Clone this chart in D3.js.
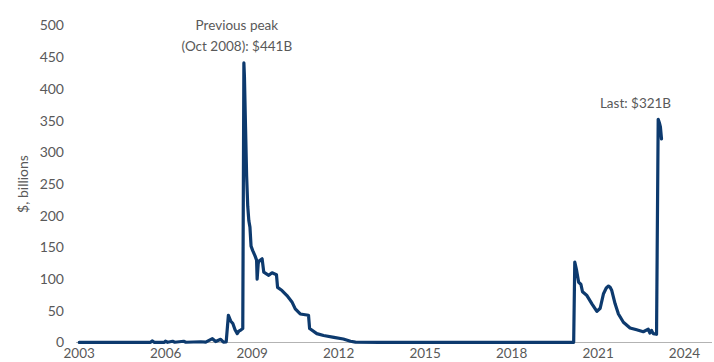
<!DOCTYPE html>
<html>
<head>
<meta charset="utf-8">
<script src="https://cdn.jsdelivr.net/npm/d3@7"></script>
<style>
  html, body { margin: 0; padding: 0; background: #fff; }
  svg { display: block; }
  text { font-family: Lato, "Open Sans", sans-serif; fill: #595959; }
</style>
</head>
<body>
<svg id="chart" width="714" height="362"></svg>
<script>
// Weekly Federal Reserve lending, $ billions
const dates = [
  "2003-01-08","2003-07-02","2004-01-07","2004-07-07","2005-01-05","2005-06-29","2005-07-20","2005-08-17",
  "2005-12-21","2006-01-04","2006-02-01","2006-04-05","2006-05-03","2006-08-23","2006-09-20","2007-03-28",
  "2007-05-30","2007-08-22","2007-10-03","2007-12-05","2008-01-09","2008-02-13","2008-03-12","2008-04-09",
  "2008-05-07","2008-06-04","2008-07-02","2008-07-23","2008-08-20","2008-09-10","2008-09-24","2008-10-01",
  "2008-10-15","2008-10-29","2008-11-12","2008-11-26","2008-12-10","2008-12-24","2009-01-14","2009-02-11",
  "2009-03-04","2009-03-11","2009-03-25","2009-04-08","2009-05-13","2009-06-03","2009-08-05","2009-09-16",
  "2009-11-11","2009-11-25","2010-01-20","2010-03-24","2010-05-26","2010-07-07","2010-09-08","2010-12-22",
  "2011-01-05","2011-04-06","2011-07-01","2011-11-09","2012-03-07","2012-06-06","2012-08-08","2013-06-05",
  "2014-06-04","2015-06-03","2016-06-01","2017-06-07","2018-06-06","2019-06-05","2020-03-04","2020-03-18",
  "2020-04-08","2020-05-06","2020-06-03","2020-06-24","2020-08-19","2020-10-21","2020-12-23","2021-02-03",
  "2021-03-17","2021-04-21","2021-05-19","2021-06-09","2021-06-30","2021-08-11","2021-09-22","2021-11-24",
  "2022-02-16","2022-05-11","2022-08-03","2022-10-05","2022-10-26","2022-11-16","2022-12-07","2023-01-18",
  "2023-02-08","2023-02-22","2023-03-08","2023-03-22"
];
const lendingBillions = [
  0.1, 0.2, 0.1, 0.2, 0.1, 0.3, 2.5, 0.3,
  0.3, 2.0, 0.3, 2.0, 0.4, 2.0, 0.4, 1.2,
  0.5, 6.0, 1.5, 5.0, 0.5, 1.0, 43, 34,
  30, 20, 14, 18, 20, 22, 441, 420,
  340, 262, 215, 192, 182, 152, 145, 137,
  130, 100, 125, 129, 132, 111, 106, 110,
  107, 87, 82, 74, 64, 53, 45, 43,
  22, 14, 11, 8, 5.5, 2, 0.5, 0.3,
  0.2, 0.3, 0.2, 0.3, 0.2, 0.2, 0.3, 127,
  115, 95, 92, 80, 74, 61, 49, 54,
  77, 86, 89, 87, 82, 61, 45, 32,
  23, 20, 17, 21, 15, 19, 14, 13,
  352, 347, 340, 321
];

const yearTicks = [2003, 2006, 2009, 2012, 2015, 2018, 2021, 2024];
const valueTicks = [0, 50, 100, 150, 200, 250, 300, 350, 400, 450, 500];
const yAxisTitle = "$, billions";
const peakNote = ["Previous peak", "(Oct 2008): $441B"];
const lastNote = "Last: $321B";

const parse = d3.timeParse("%Y-%m-%d");
const series = dates.map((d, i) => ({ date: parse(d), value: lendingBillions[i] }));

const svg = d3.select("#chart");
const lineColor = "#0d3a6e";

const x = d3.scaleTime()
  .domain([new Date(2003, 0, 1), new Date(2024, 0, 1)])
  .range([78.7, 684]);
const y = d3.scaleLinear()
  .domain([0, 500])
  .range([342.5, 25.5]);

// Baseline along zero
svg.append("line")
  .attr("x1", 76).attr("x2", 712)
  .attr("y1", y(0)).attr("y2", y(0))
  .attr("stroke", "#b3b3b3").attr("stroke-width", 1);

// Value axis labels
const yAxis = svg.append("g")
  .attr("transform", "translate(64,0)")
  .call(d3.axisLeft(y).tickValues(valueTicks).tickSize(0).tickPadding(0).tickFormat(d3.format("d")));
yAxis.select(".domain").remove();
yAxis.selectAll("text")
  .style("font-size", "14px")
  .style("font-family", "Lato, 'Open Sans', sans-serif")
  .attr("fill", "#595959");

// Year axis labels
const xAxis = svg.append("g")
  .attr("transform", `translate(0,${y(0)})`)
  .call(d3.axisBottom(x)
    .tickValues(yearTicks.map(yr => new Date(yr, 0, 1)))
    .tickSize(0).tickPadding(6)
    .tickFormat(d3.timeFormat("%Y")));
xAxis.select(".domain").remove();
xAxis.selectAll("text")
  .style("font-size", "13.5px")
  .style("font-family", "Lato, 'Open Sans', sans-serif")
  .attr("fill", "#595959");

// Axis title
svg.append("text")
  .attr("transform", `translate(28,${(y(0) + y(500)) / 2}) rotate(-90)`)
  .attr("text-anchor", "middle")
  .style("font-size", "14px")
  .text(yAxisTitle);

// Lending series
const line = d3.line()
  .x(d => x(d.date))
  .y(d => y(d.value));

svg.append("path")
  .datum(series)
  .attr("d", line)
  .attr("fill", "none")
  .attr("stroke", lineColor)
  .attr("stroke-width", 3.2)
  .attr("stroke-linejoin", "round")
  .attr("stroke-linecap", "round");

// Annotations
const peak = series.reduce((a, b) => (b.value > a.value ? b : a));
const peakLabel = svg.append("text")
  .attr("text-anchor", "middle")
  .style("font-size", "13.5px");
peakNote.forEach((t, i) => {
  peakLabel.append("tspan")
    .attr("x", x(peak.date) - 7)
    .attr("y", y(peak.value) - 33 + i * 21)
    .text(t);
});

const last = series[series.length - 1];
svg.append("text")
  .attr("x", x(last.date) - 26)
  .attr("y", y(352) - 11)
  .attr("text-anchor", "middle")
  .style("font-size", "13.5px")
  .text(lastNote);
</script>
</body>
</html>
